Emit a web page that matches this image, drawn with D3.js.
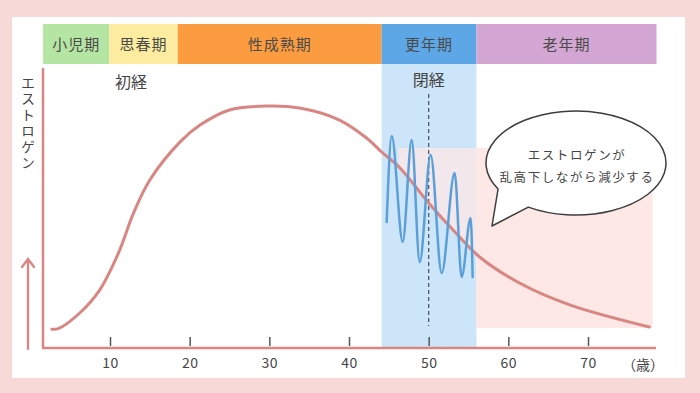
<!DOCTYPE html>
<html>
<head>
<meta charset="utf-8">
<script src="https://cdn.jsdelivr.net/npm/d3@7"></script>
<style>
  html, body { margin: 0; padding: 0; background: #f7dad7; }
  svg { display: block; font-family: "Noto Sans CJK JP", "Noto Sans", sans-serif; }
</style>
</head>
<body>
<div id="container"></div>
<script>
// life stages (age boundaries)
const periods = ["小児期", "思春期", "性成熟期", "更年期", "老年期"];
const periodBounds = [1.6, 9.9, 18.5, 44.1, 56.0, 78.6];
const periodColors = ["#b5e5a2", "#fbec9f", "#fb9c40", "#5ea7e6", "#d4a6d3"];

// estrogen curve (age, level 0-100)
const curveAges = [2.7, 3.5, 6.2, 8.7, 11.0, 13.0, 15.0, 18.8, 21.3, 25.0, 29.7, 33.8, 38.8, 42.2, 44.1, 46.4, 50.0, 53.3, 56.4, 61.4, 67.7, 77.7];
const curveLevels = [6.7, 6.9, 12.5, 20.7, 33.5, 48.5, 60.0, 73.6, 79.6, 85.0, 86.4, 85.7, 81.4, 75.0, 70.0, 64.3, 51.8, 41.4, 32.5, 23.2, 15.4, 7.5];

// fluctuation during menopause
const waveAges = [44.73, 45.36, 46.74, 47.87, 48.87, 50.25, 51.63, 53.26, 54.14, 55.27, 55.52];
const waveLevels = [45.0, 75.7, 37.9, 74.3, 30.7, 68.9, 26.8, 62.5, 25.4, 46.4, 25.4];

const tickAges = [10, 20, 30, 40, 50, 60, 70];
const menopauseAge = 50;
const shadeAges = [46.2, 78.1];
const shadeLevels = [7.1, 71.4];

const W = 700, H = 393;
const svg = d3.select("#container").append("svg")
    .attr("width", W)
    .attr("height", H);

// white panel
svg.append("rect")
    .attr("x", 12).attr("y", 17)
    .attr("width", 673).attr("height", 361)
    .attr("fill", "#ffffff");

const x = d3.scaleLinear().domain([10, 70]).range([110, 588]);
const y = d3.scaleLinear().domain([0, 100]).range([348, 68]);

// light blue menopause column
svg.append("rect")
    .attr("x", x(periodBounds[3])).attr("y", 64)
    .attr("width", x(periodBounds[4]) - x(periodBounds[3]))
    .attr("height", y(0) - 64)
    .attr("fill", "#cde5f9");

// pink shaded zone: outside the blue column a plain rect,
// inside it only the part above the curve
const curveFn = d3.scaleLinear().domain(curveAges).range(curveLevels);
svg.append("rect")
    .attr("x", x(periodBounds[4]))
    .attr("y", y(shadeLevels[1]))
    .attr("width", x(shadeAges[1]) - x(periodBounds[4]))
    .attr("height", y(shadeLevels[0]) - y(shadeLevels[1]))
    .attr("fill", "#fde8e5");

const inBand = curveAges.filter(a => a > shadeAges[0] && a < periodBounds[4]);
const bandPts = [shadeAges[0], ...inBand, periodBounds[4]];
svg.append("path")
    .datum(bandPts)
    .attr("d", d3.area()
        .x(d => x(d))
        .y0(y(shadeLevels[1]))
        .y1(d => y(curveFn(d)))
        .curve(d3.curveMonotoneX))
    .attr("fill", "#fde8e5")
    .attr("opacity", 0.75);

// period header band
const header = svg.append("g");
periods.forEach((p, i) => {
    const x0 = x(periodBounds[i]), x1 = x(periodBounds[i + 1]);
    header.append("rect")
        .attr("x", x0).attr("y", 24)
        .attr("width", x1 - x0).attr("height", 40)
        .attr("fill", periodColors[i]);
    header.append("text")
        .attr("x", (x0 + x1) / 2).attr("y", 49.5)
        .attr("text-anchor", "middle")
        .attr("font-size", 15)
        .attr("letter-spacing", 1)
        .attr("fill", "#4a4a4a")
        .text(p);
});

// menopause dashed line
svg.append("line")
    .attr("x1", x(menopauseAge)).attr("x2", x(menopauseAge))
    .attr("y1", 94).attr("y2", 326)
    .attr("stroke", "#4f5b6e")
    .attr("stroke-width", 1.3)
    .attr("stroke-dasharray", "4,3");

// estrogen curve
const line = d3.line()
    .x((d, i) => x(curveAges[i]))
    .y(d => y(d))
    .curve(d3.curveCatmullRom.alpha(0.5));

svg.append("path")
    .datum(curveLevels)
    .attr("d", line)
    .attr("fill", "none")
    .attr("stroke", "#d98683")
    .attr("stroke-width", 3)
    .attr("stroke-linecap", "round");

// fluctuating wave
svg.append("path")
    .datum(waveLevels)
    .attr("d", d3.line()
        .x((d, i) => x(waveAges[i]))
        .y(d => y(d))
        .curve(d3.curveMonotoneX))
    .attr("fill", "none")
    .attr("stroke", "#5b9fd8")
    .attr("stroke-width", 2.5)
    .attr("stroke-linecap", "round");

// axes
const axisColor = "#d98683";
svg.append("line")
    .attr("x1", 43).attr("x2", 43)
    .attr("y1", 68).attr("y2", y(0))
    .attr("stroke", axisColor).attr("stroke-width", 2.5);

const xAxis = svg.append("g")
    .attr("transform", `translate(0,${y(0)})`)
    .call(d3.axisBottom(x).tickValues(tickAges).tickSize(0).tickPadding(10))
    .attr("font-family", null)
    .attr("font-size", 14);
xAxis.select(".domain").remove();
xAxis.selectAll("text").attr("fill", "#444").attr("letter-spacing", 0.5);
xAxis.selectAll(".tick").append("line")
    .attr("y1", -2).attr("y2", -11)
    .attr("stroke", "#555").attr("stroke-width", 1.5);

svg.append("line")
    .attr("x1", 42).attr("x2", 656)
    .attr("y1", y(0)).attr("y2", y(0))
    .attr("stroke", axisColor).attr("stroke-width", 2.5);

svg.append("text")
    .attr("x", 643).attr("y", 370)
    .attr("text-anchor", "middle")
    .attr("font-size", 14)
    .attr("fill", "#444")
    .text("（歳）");

// up arrow + vertical label
svg.append("path")
    .attr("d", "M28,349 L28,259 M22,267 L28,259 L34,267")
    .attr("fill", "none")
    .attr("stroke", axisColor)
    .attr("stroke-width", 2.3)
    .attr("stroke-linecap", "round");

svg.append("text")
    .attr("x", 28).attr("y", 76)
    .style("writing-mode", "vertical-rl")
    .attr("font-size", 14)
    .attr("letter-spacing", 2)
    .attr("fill", "#444")
    .text("エストロゲン");

// event labels
svg.append("text")
    .attr("x", 131).attr("y", 88)
    .attr("text-anchor", "middle")
    .attr("font-size", 16)
    .attr("fill", "#444")
    .text("初経");
svg.append("text")
    .attr("x", x(menopauseAge)).attr("y", 86)
    .attr("text-anchor", "middle")
    .attr("font-size", 16)
    .attr("fill", "#444")
    .text("閉経");

// speech bubble
const cx = 576, cy = 163, rx = 90, ry = 52;
const pt = a => [cx + rx * Math.cos(a * Math.PI / 180), cy + ry * Math.sin(a * Math.PI / 180)];
const p1 = pt(150), p2 = pt(122);
svg.append("path")
    .attr("d", `M${p2[0]},${p2[1]} A${rx},${ry} 0 1 0 ${p1[0]},${p1[1]} L492,226 Z`)
    .attr("fill", "#ffffff")
    .attr("stroke", "#3d3d3d")
    .attr("stroke-width", 1.5)
    .attr("stroke-linejoin", "round");

const bubbleLines = ["エストロゲンが", "乱高下しながら減少する"];
svg.append("g").selectAll("text")
    .data(bubbleLines)
    .join("text")
    .attr("x", 577)
    .attr("y", (d, i) => 160 + i * 22)
    .attr("text-anchor", "middle")
    .attr("font-size", 12.5)
    .attr("letter-spacing", 1.6)
    .attr("fill", "#444")
    .text(d => d);
</script>
</body>
</html>
